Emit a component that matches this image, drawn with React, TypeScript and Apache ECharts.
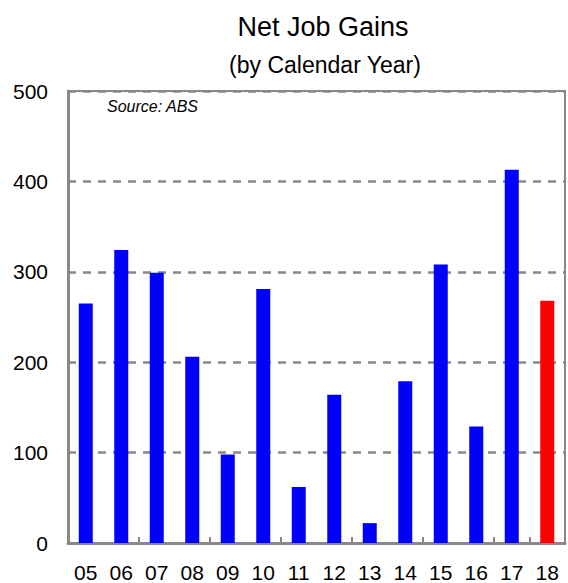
import React, { useEffect, useRef } from "react";
import * as echarts from "echarts";

const categories = ["05", "06", "07", "08", "09", "10", "11", "12", "13", "14", "15", "16", "17", "18"];
const jobGains = [265, 324, 299, 206, 98, 281, 62, 164, 22, 179, 308, 129, 413, 268];
const barColors = ["#0000ff", "#0000ff", "#0000ff", "#0000ff", "#0000ff", "#0000ff", "#0000ff", "#0000ff", "#0000ff", "#0000ff", "#0000ff", "#0000ff", "#0000ff", "#ff0000"];
const titleText = "Net Job Gains";
const subtitleText = "(by Calendar Year)";
const sourceText = "Source: ABS";

const FONT = "'Liberation Sans', Arial, sans-serif";

export default function App() {
  const ref = useRef<HTMLDivElement>(null);
  useEffect(() => {
    if (!ref.current) return;
    const chart = echarts.init(ref.current, null, { renderer: "svg" });
    chart.setOption({
      animation: false,
      backgroundColor: "#ffffff",
      grid: {
        left: 68,
        right: 3,
        top: 91,
        bottom: 39,
        show: true,
        borderColor: "#888888",
        borderWidth: 2,
        containLabel: false,
      },
      graphic: [
        {
          type: "text",
          x: 323,
          y: 27,
          style: {
            text: titleText,
            font: `27px ${FONT}`,
            fill: "#000",
            textAlign: "center",
            textVerticalAlign: "middle",
          },
        },
        {
          type: "text",
          x: 325,
          y: 65,
          style: {
            text: subtitleText,
            font: `23px ${FONT}`,
            fill: "#000",
            textAlign: "center",
            textVerticalAlign: "middle",
          },
        },
        {
          type: "text",
          x: 107,
          y: 106,
          style: {
            text: sourceText,
            font: `italic 16px ${FONT}`,
            fill: "#000",
            textAlign: "left",
            textVerticalAlign: "middle",
          },
        },
      ],
      xAxis: {
        type: "category",
        data: categories,
        boundaryGap: true,
        axisLine: { show: true, lineStyle: { color: "#888888", width: 3 } },
        axisTick: {
          show: true,
          inside: true,
          length: 6,
          interval: 1,
          lineStyle: { color: "#888888", width: 2 },
        },
        axisLabel: {
          color: "#000",
          fontSize: 21,
          fontFamily: FONT,
          margin: 19,
          interval: 0,
        },
        splitLine: { show: false },
      },
      yAxis: {
        type: "value",
        min: 0,
        max: 500,
        interval: 100,
        axisLine: { show: true, lineStyle: { color: "#888888", width: 3 } },
        axisTick: { show: false },
        axisLabel: {
          color: "#000",
          fontSize: 21,
          fontFamily: FONT,
          margin: 20,
        },
        splitLine: {
          show: true,
          lineStyle: { color: "#888888", width: 2.5, type: [8, 7] },
        },
      },
      series: [
        {
          type: "bar",
          data: jobGains.map((v, i) => ({ value: v, itemStyle: { color: barColors[i] } })),
          barWidth: 14,
          itemStyle: { borderWidth: 0 },
        },
      ],
    });
    return () => chart.dispose();
  }, []);
  return (
    <div
      ref={ref}
      style={{ position: "fixed", left: 0, top: 0, width: 568, height: 583 }}
    />
  );
}
